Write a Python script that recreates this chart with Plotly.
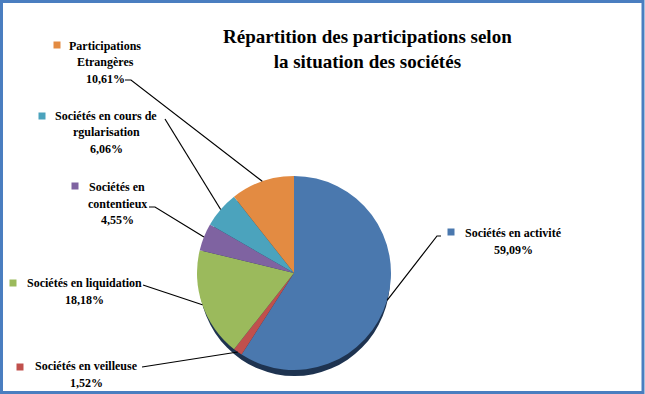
import math
import plotly.graph_objects as go

# ---- data ----
categories = ["Sociétés en activité", "Sociétés en veilleuse", "Sociétés en liquidation",
              "Sociétés en contentieux", "Sociétés en cours de rgularisation",
              "Participations Etrangères"]
percent_values = [59.09, 1.52, 18.18, 4.55, 6.06, 10.61]
label_lines = [
    ["Sociétés en activité"],
    ["Sociétés en veilleuse"],
    ["Sociétés en liquidation"],
    ["Sociétés en", "contentieux"],
    ["Sociétés en cours de", "rgularisation"],
    ["Participations", "Etrangères"],
]
colors = ["#4A78AE", "#C0504D", "#9BBA5C", "#7F63A1", "#4BA3BD", "#E38B42"]

# ---- layout geometry (pixels) ----
W, H = 645, 394
CX, CY, R = 294, 273, 97
FONT = "Liberation Sans Narrow"

def px(x):
    return x / W

def py(y):
    return 1 - y / H

label_pos = [
    dict(cx=513, y0=233, sq=(451, 232), start=(441, 236), bend=(437, 236)),
    dict(cx=86, y0=366, sq=(20, 367), start=(142, 367), bend=None),
    dict(cx=84, y0=283, sq=(13, 283), start=(143, 285), bend=None),
    dict(cx=117, y0=187, sq=(75, 186), start=(149, 207), bend=(155, 207)),
    dict(cx=106, y0=116, sq=(42, 116), start=(165, 119), bend=None),
    dict(cx=105, y0=46, sq=(57, 45), start=(125, 80), bend=(131, 80)),
]
STEP = 16.5

fig = go.Figure()
fig.add_trace(go.Pie(
    labels=categories,
    values=percent_values,
    sort=False,
    direction="clockwise",
    rotation=0,
    marker=dict(colors=colors, line=dict(width=0)),
    textinfo="none",
    hoverinfo="label+percent",
    showlegend=False,
    domain=dict(x=[px(CX - R), px(CX + R)], y=[py(CY + R), py(CY - R)]),
))

shapes = []
annotations = []

# 3D-like depth shadow under the pie
shapes.append(dict(type="circle", xref="paper", yref="paper", layer="below",
                   x0=px(CX - R + 2), x1=px(CX + R - 1), y0=py(CY + R + 6), y1=py(CY - R + 6),
                   fillcolor="#1E3350", line=dict(width=0)))

total = sum(percent_values)
cum = 0.0
for i, v in enumerate(percent_values):
    mid = (cum + v / 2) / total
    cum += v
    ang = 2 * math.pi * mid
    ex = CX + R * math.sin(ang)
    ey = CY - R * math.cos(ang)
    p = label_pos[i]
    lines = label_lines[i] + [f"{v:.2f}%".replace(".", ",")]
    for k, t in enumerate(lines):
        annotations.append(dict(x=px(p["cx"]), y=py(p["y0"] + k * STEP), xref="paper", yref="paper",
                                text=f"<b>{t}</b>", showarrow=False, xanchor="center", yanchor="middle",
                                font=dict(family=FONT, size=12, color="#000000")))
    sx, sy = p["sq"]
    shapes.append(dict(type="rect", xref="paper", yref="paper",
                       x0=px(sx - 3.5), x1=px(sx + 3.5), y0=py(sy + 3.5), y1=py(sy - 3.5),
                       fillcolor=colors[i], line=dict(width=0)))
    pts = [p["start"]]
    if p["bend"]:
        pts.append(p["bend"])
    pts.append((ex, ey))
    path = "M " + " L ".join(f"{px(a):.5f},{py(b):.5f}" for a, b in pts)
    shapes.append(dict(type="path", xref="paper", yref="paper", path=path,
                       line=dict(color="#000000", width=1.2)))

# outer border
shapes.append(dict(type="rect", xref="paper", yref="paper",
                   x0=px(1.5), x1=px(643), y0=py(392.5), y1=py(1.5),
                   line=dict(color="#4A7EC0", width=3)))

annotations.append(dict(x=px(367), y=py(49), xref="paper", yref="paper",
                        text="<b>Répartition des participations selon<br>la situation des sociétés</b>",
                        showarrow=False, xanchor="center", yanchor="middle", align="center",
                        font=dict(family=FONT, size=19, color="#000000")))

fig.update_layout(
    width=W, height=H,
    margin=dict(l=0, r=0, t=0, b=0),
    paper_bgcolor="white",
    plot_bgcolor="white",
    shapes=shapes,
    annotations=annotations,
)

fig.write_html("out.html")
